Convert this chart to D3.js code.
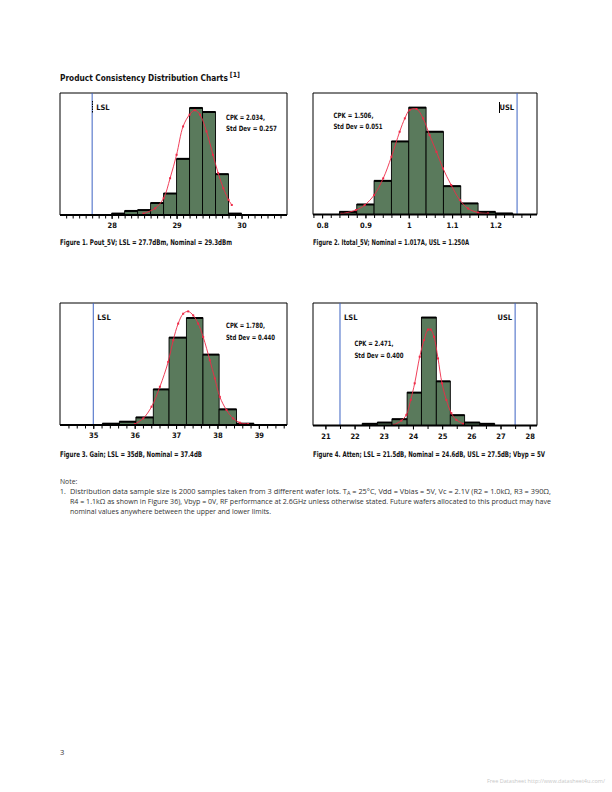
<!DOCTYPE html>
<html><head><meta charset="utf-8">
<script src="https://cdn.jsdelivr.net/npm/d3@7"></script>
<style>
html,body{margin:0;padding:0;background:#fff;}
svg{display:block;}
</style></head>
<body>
<script>
// ---------- DATA ----------
// Figure 1: Pout_5V
const c1Edges  = [28.0, 28.2, 28.4, 28.6, 28.8, 29.0, 29.2, 29.4, 29.6, 29.8, 30.0];
const c1Counts = [8, 23, 28, 68, 122, 319, 608, 585, 232, 8];
const c1CurveX = [28.49, 28.67, 28.80, 28.90, 29.00, 29.10, 29.20, 29.28, 29.36, 29.46, 29.56, 29.64, 29.72, 29.80, 29.85];
const c1CurveY = [8, 38, 95, 209, 342, 503, 570, 595, 570, 475, 342, 238, 152, 86, 57];
const c1Major  = [28, 29, 30];
const c1Labels = ["28", "29", "30"];
const c1Minor  = [27.3,27.4,27.5,27.6,27.7,27.8,27.9,28.0,28.1,28.2,28.3,28.4,28.5,28.6,28.7,28.8,28.9,29.0,29.1,29.2,29.3,29.4,29.5,29.6,29.7,29.8,29.9,30.0,30.1,30.2,30.3,30.4,30.5,30.6];
const c1Limits = [{name: "LSL", value: 27.7}];
const c1Stats  = ["CPK = 2.034,", "Std Dev = 0.257"];
const c1Caption = "Figure 1. Pout_5V; LSL = 27.7dBm, Nominal = 29.3dBm";

// Figure 2: Itotal_5V
const c2Edges  = [0.84, 0.88, 0.92, 0.96, 1.00, 1.04, 1.08, 1.12, 1.16, 1.20, 1.24];
const c2Counts = [15, 57, 191, 415, 607, 470, 161, 63, 15, 6];
const c2CurveX = [0.845, 0.878, 0.898, 0.920, 0.941, 0.960, 0.979, 0.991, 1.002, 1.018, 1.033, 1.048, 1.064, 1.079, 1.098, 1.118, 1.137, 1.160, 1.183];
const c2CurveY = [4, 25, 53, 110, 205, 328, 470, 546, 593, 599, 546, 451, 356, 262, 167, 82, 34, 11, 6];
const c2Major  = [0.8, 0.9, 1.0, 1.1, 1.2];
const c2Labels = ["0.8", "0.9", "1", "1.1", "1.2"];
const c2Minor  = [0.78,0.80,0.82,0.84,0.86,0.88,0.90,0.92,0.94,0.96,0.98,1.00,1.02,1.04,1.06,1.08,1.10,1.12,1.14,1.16,1.18,1.20,1.22,1.24,1.26,1.28];
const c2Limits = [{name: "USL", value: 1.25}];
const c2Stats  = ["CPK = 1.506,", "Std Dev = 0.051"];
const c2Caption = "Figure 2. Itotal_5V; Nominal = 1.017A, USL = 1.250A";

// Figure 3: Gain
const c3Edges  = [35.22, 35.63, 36.03, 36.45, 36.83, 37.25, 37.65, 38.04, 38.46, 38.88];
const c3Counts = [8, 20, 46, 216, 530, 649, 427, 95, 8];
const c3CurveX = [36.006, 36.207, 36.408, 36.609, 36.810, 36.931, 37.051, 37.172, 37.293, 37.414, 37.534, 37.655, 37.816, 37.936, 38.057, 38.218, 38.379, 38.540, 38.741];
const c3CurveY = [6, 40, 111, 232, 383, 514, 615, 675, 689, 665, 615, 534, 393, 282, 171, 91, 40, 14, 6];
const c3Major  = [35, 36, 37, 38, 39];
const c3Labels = ["35", "36", "37", "38", "39"];
const c3Minor  = [34.4,34.6,34.8,35.0,35.2,35.4,35.6,35.8,36.0,36.2,36.4,36.6,36.8,37.0,37.2,37.4,37.6,37.8,38.0,38.2,38.4,38.6,38.8,39.0,39.2,39.4,39.6];
const c3Limits = [{name: "LSL", value: 35}];
const c3Stats  = ["CPK = 1.780,", "Std Dev = 0.440"];
const c3Caption = "Figure 3. Gain; LSL = 35dB, Nominal = 37.4dB";

// Figure 4: Atten
const c4Edges  = [22.26, 22.78, 23.28, 23.80, 24.29, 24.80, 25.28, 25.77, 26.29, 26.80];
const c4Counts = [16, 28, 60, 312, 1024, 419, 98, 28, 16];
const c4CurveX = [23.352, 23.603, 23.774, 23.922, 24.059, 24.231, 24.379, 24.516, 24.607, 24.721, 24.858, 24.995, 25.144, 25.315, 25.486, 25.715];
const c4CurveY = [6, 47, 101, 243, 400, 652, 810, 910, 910, 841, 636, 400, 243, 117, 54, 16];
const c4Major  = [21, 22, 23, 24, 25, 26, 27, 28];
const c4Labels = ["21", "22", "23", "24", "25", "26", "27", "28"];
const c4Minor  = [21.0,21.5,22.0,22.5,23.0,23.5,24.0,24.5,25.0,25.5,26.0,26.5,27.0,27.5,28.0];
const c4Limits = [{name: "LSL", value: 21.5}, {name: "USL", value: 27.5}];
const c4Stats  = ["CPK = 2.471,", "Std Dev = 0.400"];
const c4Caption = "Figure 4. Atten; LSL = 21.5dB, Nominal = 24.6dB, USL = 27.5dB; Vbyp = 5V";

const titleText = "Product Consistency Distribution Charts";
const titleNote = "[1]";
const noteLines = [
  "Distribution data sample size is 2000 samples taken from 3 different wafer lots. T",
  "R4 = 1.1k\u03A9 as shown in Figure 36), Vbyp = 0V, RF performance at 2.6GHz unless otherwise stated. Future wafers allocated to this product may have",
  "nominal values anywhere between the upper and lower limits."
];

// ---------- LAYOUT / STYLE ----------
const COND = "'Liberation Sans Narrow','DejaVu Sans Condensed','Arial Narrow',sans-serif";
const REG = "'Open Sans','Liberation Sans',sans-serif";
const BAR_FILL = "#5a7a5c";
const RED = "#ee2a47";
const BLUE = "#3d63c3";

const svg = d3.select("body").append("svg").attr("width", 612).attr("height", 792);
svg.append("rect").attr("width", 612).attr("height", 792).attr("fill", "#fff");

// title: size the font so its natural width is ~168px, then place the superscript after it
const title = svg.append("text").attr("x", 60).attr("y", 81).attr("font-family", COND).attr("font-weight", "bold")
  .attr("font-size", 11.5).attr("fill", "#111").text(titleText);
const nat = title.node().getComputedTextLength();
const tSize = Math.min(12, 11.5 * 168 / nat);
title.attr("font-size", tSize);
const tEnd = 60 + title.node().getComputedTextLength();
svg.append("text").attr("x", tEnd + 2).attr("y", 76.5).attr("font-family", COND).attr("font-weight", "bold")
  .attr("font-size", 7).attr("fill", "#111").text(titleNote);

function drawChart(cfg) {
  const g = svg.append("g");
  const x = d3.scaleLinear().domain(cfg.xDomain).range([cfg.left, cfg.right]);
  const y = d3.scaleLinear().domain([0, cfg.yMax]).range([cfg.axisY, cfg.top]);

  // frame
  g.append("path").attr("d", `M${cfg.left},${cfg.axisY}V${cfg.top}H${cfg.right}V${cfg.axisY}`)
    .attr("fill", "none").attr("stroke", "#000").attr("stroke-width", 1);

  // bars
  const bins = cfg.counts.map((c, i) => ({x0: cfg.edges[i], x1: cfg.edges[i + 1], c}));
  g.selectAll("rect.bar").data(bins).join("rect").attr("class", "bar")
    .attr("x", d => x(d.x0)).attr("width", d => x(d.x1) - x(d.x0))
    .attr("y", d => y(d.c)).attr("height", d => y(0) - y(d.c))
    .attr("fill", BAR_FILL).attr("stroke", "#000").attr("stroke-width", 0.9);
  g.selectAll("line.top").data(bins).join("line").attr("class", "top")
    .attr("x1", d => x(d.x0)).attr("x2", d => x(d.x1))
    .attr("y1", d => y(d.c)).attr("y2", d => y(d.c))
    .attr("stroke", "#000").attr("stroke-width", 2);

  // curve
  const pts = cfg.curveX.map((v, i) => [v, cfg.curveY[i]]);
  g.append("path").datum(pts)
    .attr("d", d3.line().x(d => x(d[0])).y(d => y(d[1])).curve(d3.curveCatmullRom))
    .attr("fill", "none").attr("stroke", RED).attr("stroke-width", 0.9);
  g.selectAll("rect.mk").data(pts).join("rect").attr("class", "mk")
    .attr("x", d => x(d[0]) - 1).attr("y", d => y(d[1]) - 1).attr("width", 2).attr("height", 2)
    .attr("fill", RED);

  // spec limits
  cfg.limits.forEach(l => {
    g.append("line").attr("x1", x(l.value)).attr("x2", x(l.value))
      .attr("y1", cfg.top).attr("y2", cfg.axisY).attr("stroke", BLUE).attr("stroke-width", 1);
    const left = l.name === "USL";
    g.append("text").attr("x", left ? x(l.value) - 3 : x(l.value) + 4).attr("y", cfg.top + 17)
      .attr("text-anchor", left ? "end" : "start")
      .attr("font-family", COND).attr("font-weight", "bold").attr("font-size", 7.5).attr("fill", "#111")
      .text(l.name);
  });
  if (cfg.mark) {
    g.append("line").attr("x1", cfg.mark.x).attr("x2", cfg.mark.x).attr("y1", cfg.mark.y1).attr("y2", cfg.mark.y2)
      .attr("stroke", "#000").attr("stroke-width", 1).attr("stroke-dasharray", cfg.mark.dash || null);
  }

  // stats
  cfg.stats.forEach((s, i) => {
    g.append("text").attr("x", cfg.statsX).attr("y", cfg.statsY + i * 11.7)
      .attr("font-family", COND).attr("font-weight", "bold").attr("font-size", 7.3).attr("fill", "#111")
      .attr("textLength", cfg.statsW[i]).attr("lengthAdjust", "spacingAndGlyphs").text(s);
  });

  // axis
  const minorAx = d3.axisBottom(x).tickValues(cfg.minor).tickSize(3.5).tickSizeOuter(0).tickFormat("");
  const ga = g.append("g").attr("transform", `translate(0,${cfg.axisY})`).call(minorAx);
  ga.select(".domain").remove();
  ga.selectAll("line").attr("stroke", "#000").attr("stroke-width", 1);
  const majorAx = d3.axisBottom(x).tickValues(cfg.major).tickSize(4).tickSizeOuter(0)
    .tickFormat((d, i) => cfg.labels[i]).tickPadding(4);
  const gm = g.append("g").attr("transform", `translate(0,${cfg.axisY})`).call(majorAx);
  gm.select(".domain").remove();
  gm.selectAll("line").attr("stroke", "#000").attr("stroke-width", 1);
  gm.selectAll("text").attr("font-family", COND).attr("font-weight", "bold").attr("font-size", 7.5).attr("fill", "#111");
  g.append("line").attr("x1", cfg.left).attr("x2", cfg.right).attr("y1", cfg.axisY).attr("y2", cfg.axisY)
    .attr("stroke", "#000").attr("stroke-width", 1.8);

  // caption
  g.append("text").attr("x", cfg.left).attr("y", cfg.captionY)
    .attr("font-family", COND).attr("font-weight", "bold").attr("font-size", 7.8).attr("fill", "#111")
    .attr("textLength", cfg.captionW).attr("lengthAdjust", "spacingAndGlyphs").text(cfg.caption);
}

drawChart({left: 60, right: 287, top: 93, axisY: 215, xDomain: [27.205, 30.70], yMax: 693,
  edges: c1Edges, counts: c1Counts, curveX: c1CurveX, curveY: c1CurveY,
  major: c1Major, labels: c1Labels, minor: c1Minor, limits: c1Limits,
  stats: c1Stats, statsX: 226, statsY: 119.5, statsW: [39, 51],
  caption: c1Caption, captionY: 244.5, captionW: 172,
  mark: {x: 92.5, y1: 101, y2: 113, dash: "1.5,1"}});

drawChart({left: 313, right: 537, top: 93, axisY: 214.5, xDomain: [0.779, 1.296], yMax: 690,
  edges: c2Edges, counts: c2Counts, curveX: c2CurveX, curveY: c2CurveY,
  major: c2Major, labels: c2Labels, minor: c2Minor, limits: c2Limits,
  stats: c2Stats, statsX: 333.5, statsY: 117.5, statsW: [40, 49],
  caption: c2Caption, captionY: 244.5, captionW: 156,
  mark: {x: 499.5, y1: 102, y2: 113}});

drawChart({left: 60, right: 287, top: 303, axisY: 425, xDomain: [34.196, 39.68], yMax: 740,
  edges: c3Edges, counts: c3Counts, curveX: c3CurveX, curveY: c3CurveY,
  major: c3Major, labels: c3Labels, minor: c3Minor, limits: c3Limits,
  stats: c3Stats, statsX: 226, statsY: 328, statsW: [39, 49],
  caption: c3Caption, captionY: 456.5, captionW: 142});

drawChart({left: 313, right: 537, top: 303, axisY: 425.5, xDomain: [20.575, 28.25], yMax: 1162,
  edges: c4Edges, counts: c4Counts, curveX: c4CurveX, curveY: c4CurveY,
  major: c4Major, labels: c4Labels, minor: c4Minor, limits: c4Limits,
  stats: c4Stats, statsX: 354.5, statsY: 346, statsW: [39, 49],
  caption: c4Caption, captionY: 456.5, captionW: 232});

// notes
const nf = {family: REG, size: 6.8, fill: "#333"};
svg.append("text").attr("x", 60).attr("y", 483.5).attr("font-family", nf.family).attr("font-size", nf.size).attr("fill", nf.fill).text("Note:");
svg.append("text").attr("x", 60).attr("y", 493.5).attr("font-family", nf.family).attr("font-size", nf.size).attr("fill", nf.fill).text("1.");
const l1 = svg.append("text").attr("x", 70).attr("y", 493.5).attr("font-family", nf.family).attr("font-size", nf.size).attr("fill", nf.fill)
  .attr("textLength", 481).attr("lengthAdjust", "spacingAndGlyphs");
l1.append("tspan").text(noteLines[0]);
l1.append("tspan").attr("dy", 1.5).attr("font-size", 5).text("A");
l1.append("tspan").attr("dy", -1.5).text(" = 25\u00B0C, Vdd = Vbias = 5V, Vc = 2.1V (R2 = 1.0k\u03A9, R3 = 390\u03A9,");
svg.append("text").attr("x", 70).attr("y", 503.5).attr("font-family", nf.family).attr("font-size", nf.size).attr("fill", nf.fill)
  .attr("textLength", 481).attr("lengthAdjust", "spacingAndGlyphs").text(noteLines[1]);
svg.append("text").attr("x", 70).attr("y", 513.5).attr("font-family", nf.family).attr("font-size", nf.size).attr("fill", nf.fill)
  .attr("textLength", 201).attr("lengthAdjust", "spacingAndGlyphs").text(noteLines[2]);

svg.append("text").attr("x", 60).attr("y", 755).attr("font-family", REG).attr("font-size", 7.5).attr("fill", "#333").text("3");
svg.append("text").attr("x", 487).attr("y", 783).attr("font-family", REG).attr("font-size", 5).attr("fill", "#c8c8c8")
  .attr("textLength", 118).attr("lengthAdjust", "spacingAndGlyphs").text("Free Datasheet http://www.datasheet4u.com/");
</script>
</body></html>
